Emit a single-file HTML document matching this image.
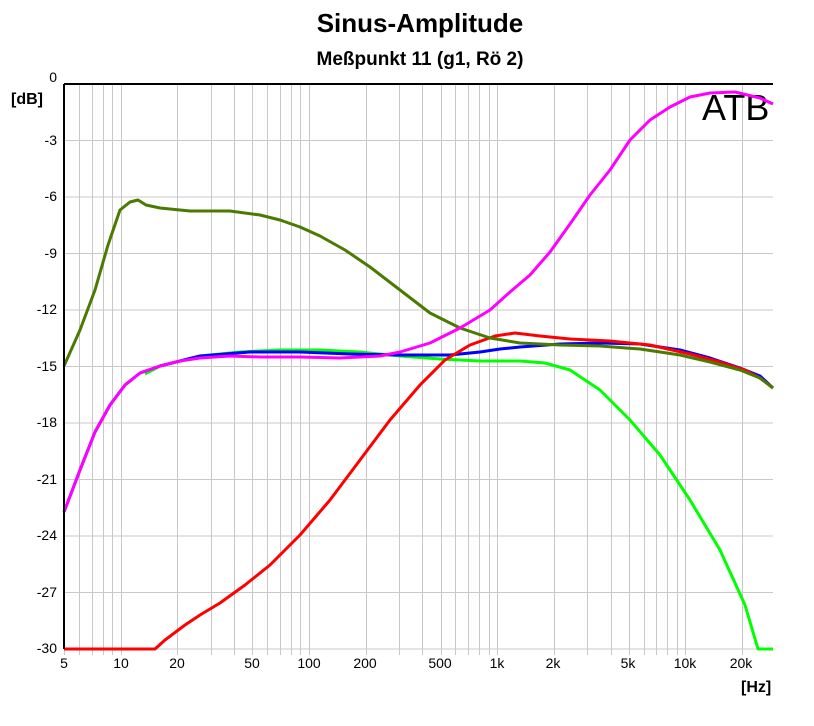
<!DOCTYPE html>
<html><head><meta charset="utf-8"><style>
body{margin:0;background:#fff;}
svg text{font-family:"Liberation Sans",Arial,sans-serif;}
</style></head><body>
<svg id="s" width="814" height="721" xmlns="http://www.w3.org/2000/svg">
<rect width="814" height="721" fill="#fff"/>
<g id="grid"></g>
<text x="420" y="32" font-size="26" font-weight="bold" text-anchor="middle">Sinus-Amplitude</text>
<text x="420" y="65" font-size="19" font-weight="bold" text-anchor="middle">Meßpunkt 11 (g1, Rö 2)</text>
<text x="11" y="104" font-size="16" font-weight="bold">[dB]</text>
<g font-size="14" text-anchor="end">
<text x="57" y="82">0</text><text x="57" y="145">-3</text><text x="57" y="201">-6</text>
<text x="57" y="258">-9</text><text x="57" y="314">-12</text><text x="57" y="371">-15</text>
<text x="57" y="427">-18</text><text x="57" y="484">-21</text><text x="57" y="540">-24</text>
<text x="57" y="597">-27</text><text x="57" y="653">-30</text>
</g>
<g font-size="14" text-anchor="middle">
<text x="64" y="668">5</text><text x="121" y="668">10</text><text x="177" y="668">20</text>
<text x="252" y="668">50</text><text x="309" y="668">100</text><text x="365" y="668">200</text>
<text x="440" y="668">500</text><text x="497" y="668">1k</text><text x="553" y="668">2k</text>
<text x="628" y="668">5k</text><text x="685" y="668">10k</text><text x="741" y="668">20k</text>
</g>
<text x="741" y="692" font-size="16" font-weight="bold">[Hz]</text>
<text x="702" y="120" font-size="36">ATB</text>
<g id="curves" fill="none" stroke-width="3" stroke-linejoin="round"></g>
<line x1="64" y1="84" x2="773" y2="84" stroke="#000" stroke-width="2"/>
<line x1="64" y1="84" x2="64" y2="649" stroke="#000" stroke-width="2"/>
</svg>
<script>
var ns="http://www.w3.org/2000/svg";
function el(p,t,a){var e=document.createElementNS(ns,t);for(var k in a)e.setAttribute(k,a[k]);p.appendChild(e);return e;}
var g=document.getElementById("grid");
function X(f){return 120.8+188.2*Math.log10(f/10);}
for(var i=1;i<=10;i++){var y=84+i*56.5;el(g,"line",{x1:64,y1:y,x2:773,y2:y,stroke:"#c8c8c8","stroke-width":1});}
var fs=[5,6,7,8,9];
[10,100,1000,10000].forEach(function(d){for(var m=1;m<=9;m++)fs.push(m*d);});
fs.push(30000);
fs.forEach(function(f){var x=Math.round(X(f))+0.5;if(x>774)return;
el(g,"line",{x1:x,y1:84,x2:x,y2:655,stroke:"#c8c8c8","stroke-width":1});});
var c=document.getElementById("curves");
var data=[
["#00ff00","145,374 160,366 200,356 240,352 280,350 320,350 360,352 400,356 440,359 480,361 520,361 545,363 570,370 600,390 630,420 660,455 690,500 720,550 745,605 758,649 773,649"],
["#0000ff","64,512 80,470 95,432 110,405 125,385 140,373 160,366 200,356 250,352 300,352 350,354 400,355 450,355 480,352 500,349 520,347 560,344 600,343 640,344 680,350 710,358 740,368 760,376 773,388"],
["#ff0000","64,649 155,649 165,640 185,625 200,615 220,603 245,585 270,565 300,535 330,500 360,460 390,420 420,385 445,360 470,345 495,336 515,333 540,336 570,339 610,341 650,345 690,354 720,362 745,370 760,378 773,388"],
["#4a7a00","64,366 80,330 95,290 108,245 120,210 130,202 138,200 146,205 160,208 190,211 230,211 260,215 280,220 300,227 320,236 345,250 370,267 400,290 430,313 460,328 490,338 520,343 560,345 600,346 640,349 680,355 710,362 740,370 760,378 773,388"],
["#ff00ff","64,512 80,470 95,432 110,405 125,385 140,373 160,366 180,361 200,358 230,356 260,357 300,357 340,358 380,356 400,352 430,343 460,328 490,310 510,292 530,275 550,252 570,224 590,195 610,170 630,140 650,120 670,107 690,97 710,93 735,92 760,98 773,104"]
];
data.forEach(function(d){el(c,"polyline",{points:d[1],stroke:d[0]});});
</script>
</body></html>
